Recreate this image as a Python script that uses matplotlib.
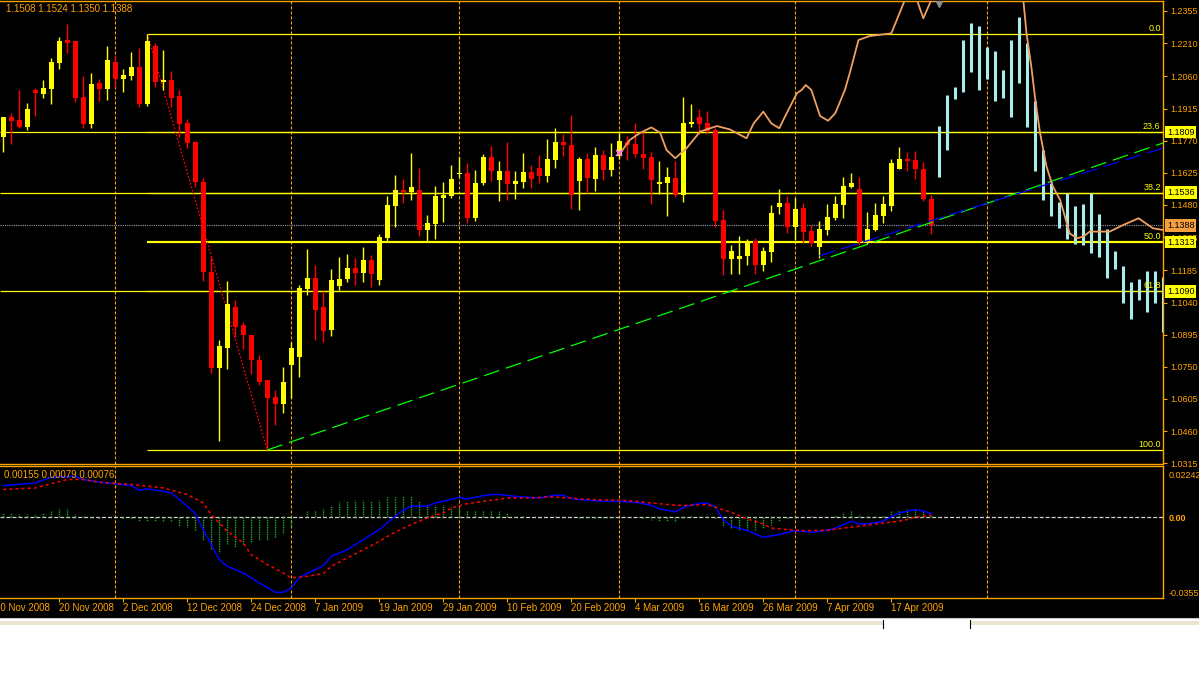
import matplotlib.pyplot as plt
import matplotlib.transforms as mtransforms
from matplotlib import font_manager
from matplotlib.lines import Line2D
from matplotlib.patches import Rectangle
import numpy as np

# daily candles, bar 0 = 11 Nov 2008, last bar = 24 Apr 2009
opens = [1.1787, 1.1877, 1.1863, 1.1832, 1.1999, 1.1981, 1.2003, 1.2121, 1.2224, 1.2220,
         1.1967, 1.1845, 1.2030, 1.2003, 1.2125, 1.2048, 1.2062, 1.2102, 1.1936, 1.2197,
         1.2035, 1.2044, 1.1972, 1.1850, 1.1764, 1.1584, 1.1178, 1.0745, 1.0835, 1.1020,
         1.0939, 1.0894, 1.0781, 1.0691, 1.0614, 1.0583, 1.0759, 1.0795, 1.1101, 1.1151,
         1.1020, 1.0916, 1.1115, 1.1146, 1.1196, 1.1173, 1.1232, 1.1142, 1.1331, 1.1476,
         1.1548, 1.1539, 1.1548, 1.1367, 1.1394, 1.1512, 1.1521, 1.1620, 1.1624, 1.1421,
         1.1579, 1.1697, 1.1593, 1.1633, 1.1575, 1.1584, 1.1629, 1.1647, 1.1611, 1.1683,
         1.1764, 1.1751, 1.1588, 1.1688, 1.1597, 1.1706, 1.1638, 1.1701, 1.1764, 1.1755,
         1.1710, 1.1697, 1.1575, 1.1579, 1.1602, 1.1525, 1.1845, 1.1877, 1.1850, 1.1818,
         1.1412, 1.1236, 1.1236, 1.1250, 1.1318, 1.1209, 1.1268, 1.1471, 1.1489, 1.1381,
         1.1467, 1.1363, 1.1291, 1.1367, 1.1421, 1.1480, 1.1561, 1.1552, 1.1313, 1.1367,
         1.1430, 1.1476, 1.1642, 1.1688, 1.1683, 1.1642, 1.1508]
highs = [1.1877, 1.1895, 1.1999, 1.1940, 1.2008, 1.2044, 1.2143, 1.2238, 1.2296, 1.2220,
         1.2062, 1.2075, 1.2048, 1.2197, 1.2157, 1.2093, 1.2170, 1.2188, 1.2251, 1.2211,
         1.2179, 1.2084, 1.1999, 1.1868, 1.1769, 1.1602, 1.1250, 1.0871, 1.1137, 1.1052,
         1.0952, 1.0894, 1.0804, 1.0691, 1.0646, 1.0749, 1.0862, 1.1119, 1.1282, 1.1209,
         1.1092, 1.1191, 1.1246, 1.1259, 1.1241, 1.1291, 1.1255, 1.1349, 1.1521, 1.1615,
         1.1597, 1.1715, 1.1647, 1.1435, 1.1566, 1.1584, 1.1661, 1.1697, 1.1670, 1.1638,
         1.1710, 1.1746, 1.1679, 1.1764, 1.1633, 1.1715, 1.1661, 1.1706, 1.1778, 1.1827,
         1.1800, 1.1886, 1.1697, 1.1715, 1.1742, 1.1728, 1.1760, 1.1805, 1.1791, 1.1850,
         1.1809, 1.1719, 1.1679, 1.1651, 1.1679, 1.1967, 1.1936, 1.1913, 1.1904, 1.1827,
         1.1457, 1.1300, 1.1340, 1.1327, 1.1331, 1.1291, 1.1480, 1.1552, 1.1521, 1.1512,
         1.1489, 1.1390, 1.1408, 1.1485, 1.1521, 1.1606, 1.1624, 1.1606, 1.1449, 1.1489,
         1.1521, 1.1688, 1.1742, 1.1719, 1.1724, 1.1674, 1.1524]
lows = [1.1719, 1.1755, 1.1827, 1.1818, 1.1881, 1.1963, 1.1936, 1.2093, 1.2166, 1.1945,
        1.1827, 1.1827, 1.1949, 1.1954, 1.2012, 1.1990, 1.2044, 1.1922, 1.1927, 1.2012,
        1.1999, 1.1922, 1.1787, 1.1737, 1.1561, 1.1137, 1.0722, 1.0416, 1.0740, 1.0885,
        1.0831, 1.0718, 1.0668, 1.0375, 1.0488, 1.0542, 1.0610, 1.0704, 1.1074, 1.0871,
        1.0862, 1.0889, 1.1097, 1.1133, 1.1119, 1.1133, 1.1110, 1.1119, 1.1313, 1.1381,
        1.1489, 1.1503, 1.1340, 1.1318, 1.1327, 1.1403, 1.1512, 1.1606, 1.1399, 1.1408,
        1.1570, 1.1588, 1.1498, 1.1503, 1.1507, 1.1557, 1.1557, 1.1579, 1.1584, 1.1647,
        1.1701, 1.1462, 1.1457, 1.1534, 1.1543, 1.1593, 1.1611, 1.1688, 1.1683, 1.1697,
        1.1642, 1.1485, 1.1530, 1.1430, 1.1516, 1.1494, 1.1832, 1.1800, 1.1800, 1.1381,
        1.1164, 1.1169, 1.1169, 1.1209, 1.1169, 1.1182, 1.1223, 1.1440, 1.1354, 1.1322,
        1.1309, 1.1295, 1.1241, 1.1345, 1.1412, 1.1421, 1.1557, 1.1300, 1.1304, 1.1363,
        1.1399, 1.1453, 1.1642, 1.1633, 1.1597, 1.1498, 1.1350]
closes = [1.1877, 1.1859, 1.1832, 1.1913, 1.1985, 1.2008, 1.2125, 1.2220, 1.2211, 1.1963,
          1.1845, 1.2026, 1.2003, 1.2134, 1.2048, 1.2066, 1.2102, 1.1936, 1.2220, 1.2035,
          1.2044, 1.1963, 1.1845, 1.1760, 1.1584, 1.1178, 1.0745, 1.0844, 1.1034, 1.0930,
          1.0894, 1.0781, 1.0682, 1.0610, 1.0583, 1.0682, 1.0835, 1.1106, 1.1151, 1.1006,
          1.0912, 1.1142, 1.1146, 1.1196, 1.1173, 1.1232, 1.1169, 1.1336, 1.1480, 1.1548,
          1.1539, 1.1561, 1.1367, 1.1399, 1.1521, 1.1525, 1.1597, 1.1624, 1.1421, 1.1579,
          1.1697, 1.1633, 1.1633, 1.1575, 1.1588, 1.1629, 1.1597, 1.1611, 1.1688, 1.1764,
          1.1751, 1.1525, 1.1688, 1.1602, 1.1706, 1.1638, 1.1697, 1.1769, 1.1751, 1.1710,
          1.1692, 1.1593, 1.1584, 1.1606, 1.1525, 1.1850, 1.1854, 1.1845, 1.1814, 1.1408,
          1.1236, 1.1273, 1.1250, 1.1313, 1.1209, 1.1273, 1.1444, 1.1489, 1.1381, 1.1462,
          1.1358, 1.1309, 1.1372, 1.1426, 1.1485, 1.1566, 1.1579, 1.1313, 1.1372, 1.1435,
          1.1485, 1.1670, 1.1688, 1.1679, 1.1642, 1.1507, 1.1388]

# projected (ghost) bars drawn after the last candle
proj_start = 117
proj_highs = [1.1836, 1.1977, 1.2012, 1.2224, 1.2301, 1.2287, 1.2193, 1.2175, 1.2089, 1.2224,
              1.2328, 1.2211, 1.1949, 1.1728, 1.1584, 1.1494, 1.1534, 1.1476, 1.1485, 1.1534,
              1.1440, 1.1372, 1.1273, 1.1205, 1.1133, 1.1146, 1.1182, 1.1182, 1.1155]
proj_lows = [1.1606, 1.1728, 1.1958, 1.1990, 1.2080, 1.1999, 1.2048, 1.1949, 1.1963, 1.1877,
             1.2030, 1.1832, 1.1633, 1.1503, 1.1430, 1.1376, 1.1327, 1.1304, 1.1300, 1.1264,
             1.1246, 1.1151, 1.1191, 1.1038, 1.0966, 1.1052, 1.0998, 1.1038, 1.0907]

# orange overlay line (bar, price)
orange_bars = [77.1, 78.3, 79.6, 81.0, 82.1, 82.9, 84.0, 85.4, 87.1, 89.2,
               90.8, 92.9, 93.8, 95.0, 96.0, 97.0, 97.7, 99.2, 99.8, 100.3,
               101.0, 102.1, 103.1, 104.0, 105.2, 105.8, 106.9, 108.3, 111.0, 112.7,
               113.5, 114.2, 115.0, 116.0, 119.6, 124.6, 127.5, 127.9, 128.5, 129.0,
               129.6, 130.4, 131.2, 132.1, 133.3, 134.2, 135.0, 135.8, 138.3, 140.0,
               141.9, 143.7, 145.0]
orange_prices = [1.1713, 1.1773, 1.1805, 1.1830, 1.1806, 1.1728, 1.1691, 1.1736, 1.1811, 1.1836,
                 1.1821, 1.1781, 1.1848, 1.1901, 1.1848, 1.1826, 1.1878, 1.1984, 1.1999, 1.2021,
                 1.1999, 1.1881, 1.1860, 1.1894, 1.1999, 1.2074, 1.2224, 1.2242, 1.2254, 1.2405,
                 1.2450, 1.2405, 1.2322, 1.2405, 1.2585, 1.2585, 1.2405, 1.2254, 1.2104, 1.1954,
                 1.1803, 1.1653, 1.1563, 1.1503, 1.1352, 1.1330, 1.1337, 1.1360, 1.1360, 1.1390,
                 1.1420, 1.1375, 1.1367]

# fibonacci retracement (high bar -> low bar)
fib_bars = [18, 33]
fib_prices = [1.2252, 1.0374]
fib_levels = [0.0, 23.6, 38.2, 50.0, 61.8, 100.0]
fib_texts = ['0.0', '23.6', '38.2', '50.0', '61.8', '100.0']

# horizontal lines and their price boxes
full_hlines = [1.1809, 1.1536, 1.1090]
box_prices = [1.1809, 1.1536, 1.1313, 1.1090]
box_texts = ['1.1809', '1.1536', '1.1313', '1.1090']
bid_price = 1.1388
ohlc_text = '1.1508 1.1524 1.1350 1.1388'

# trend lines
green_bars = [33, 145]
green_prices = [1.0375, 1.1760]
blue_bars = [102, 145]
blue_prices = [1.1251, 1.1737]

# month separators
sep_bars = [14, 36, 57, 77, 99, 123]

price_ticks = [1.2355, 1.2210, 1.2060, 1.1915, 1.1770, 1.1625, 1.1480, 1.1335,
               1.1185, 1.1040, 1.0895, 1.0750, 1.0605, 1.0460, 1.0315]
date_bars = [-1, 7, 15, 23, 31, 39, 47, 55, 63, 71, 79, 87, 95, 103, 111]
date_labels = ['10 Nov 2008', '20 Nov 2008', '2 Dec 2008', '12 Dec 2008', '24 Dec 2008',
               '7 Jan 2009', '19 Jan 2009', '29 Jan 2009', '10 Feb 2009', '20 Feb 2009',
               '4 Mar 2009', '16 Mar 2009', '26 Mar 2009', '7 Apr 2009', '17 Apr 2009']

# MACD panel
macd_bars = [0, 4, 6, 9, 10, 12, 14, 16, 17, 18, 20, 21, 22, 23, 24, 25, 26, 27, 28, 30,
             32, 34, 35, 36, 37, 39, 40, 41, 43, 45, 47, 49, 50, 51, 53, 54, 55, 57, 58, 60,
             61, 62, 64, 65, 67, 69, 70, 71, 72, 75, 77, 79, 81, 82, 84, 85, 87, 88, 89, 90,
             91, 93, 95, 97, 99, 100, 101, 103, 104, 106, 107, 108, 110, 111, 112, 114, 115, 116]
macd_vals = [0.0138, 0.0150, 0.0175, 0.0179, 0.0165, 0.0153, 0.0147, 0.0138, 0.0118, 0.0124,
             0.0113, 0.0106, 0.0077, 0.0048, 0.0015, -0.0055, -0.0120, -0.0187, -0.0216, -0.0245,
             -0.0289, -0.0330, -0.0330, -0.0311, -0.0265, -0.0230, -0.0213, -0.0172, -0.0143, -0.0099,
             -0.0055, 0.0004, 0.0030, 0.0048, 0.0048, 0.0062, 0.0069, 0.0087, 0.0080, 0.0094,
             0.0099, 0.0099, 0.0091, 0.0088, 0.0084, 0.0096, 0.0096, 0.0081, 0.0077, 0.0069,
             0.0069, 0.0065, 0.0052, 0.0036, 0.0023, 0.0043, 0.0061, 0.0061, 0.0045, -0.0011,
             -0.0040, -0.0059, -0.0089, -0.0076, -0.0060, -0.0062, -0.0067, -0.0058, -0.0048, -0.0018,
             -0.0030, -0.0030, -0.0018, 0.0001, 0.0018, 0.0033, 0.0026, 0.0015]
signal_bars = [0, 4, 8, 10, 12, 16, 20, 21, 23, 25, 26, 28, 30, 31, 33, 35, 36, 38, 40, 41,
               43, 45, 47, 49, 51, 53, 55, 56, 58, 60, 61, 63, 66, 68, 71, 72, 75, 77, 79, 81,
               84, 85, 88, 89, 91, 93, 95, 96, 98, 100, 103, 105, 107, 109, 112, 113, 114, 115, 116]
signal_vals = [0.0121, 0.0128, 0.0165, 0.0165, 0.0153, 0.0143, 0.0128, 0.0118, 0.0099, 0.0062,
               0.0010, -0.0062, -0.0113, -0.0165, -0.0208, -0.0245, -0.0267, -0.0260, -0.0248, -0.0216,
               -0.0179, -0.0143, -0.0106, -0.0065, -0.0033, -0.0004, 0.0018, 0.0040, 0.0059, 0.0069,
               0.0074, 0.0084, 0.0084, 0.0089, 0.0084, 0.0080, 0.0075, 0.0074, 0.0069, 0.0062,
               0.0052, 0.0051, 0.0055, 0.0043, 0.0021, -0.0008, -0.0030, -0.0048, -0.0055, -0.0060,
               -0.0058, -0.0048, -0.0040, -0.0030, -0.0018, -0.0011, 0.0001, 0.0004, 0.0008]
osma_vals = [0.0019, 0.0019, 0.0015, 0.0015, 0.0015, 0.0019, 0.0025, 0.0034, 0.0034, 0.0015,
             0.0003, -0.0004, -0.0007, 0.0, 0.0, -0.0010, -0.0010, -0.0019, -0.0015, -0.0019,
             -0.0022, -0.0022, -0.0037, -0.0044, -0.0063, -0.0099, -0.0142, -0.0156, -0.0117, -0.0131,
             -0.0121, -0.0110, -0.0102, -0.0102, -0.0092, -0.0073, -0.0044, 0.0, 0.0025, 0.0032,
             0.0037, 0.0048, 0.0066, 0.0069, 0.0073, 0.0073, 0.0070, 0.0073, 0.0088, 0.0088,
             0.0091, 0.0091, 0.0069, 0.0054, 0.0054, 0.0051, 0.0044, 0.0044, 0.0029, 0.0029,
             0.0029, 0.0029, 0.0025, 0.0018, 0.0004, 0.0007, 0.0, 0.0, 0.0, 0.0007,
             0.0, 0.0, -0.0003, -0.0004, -0.0004, -0.0004, -0.0004, 0.0, 0.0, 0.0,
             -0.0004, -0.0012, -0.0015, -0.0019, -0.0022, -0.0004, 0.0004, 0.0004, 0.0007, -0.0010,
             -0.0041, -0.0051, -0.0058, -0.0058, -0.0058, -0.0048, -0.0034, -0.0015, -0.0007, -0.0004,
             0.0, 0.0004, 0.0, 0.0, 0.0010, 0.0022, 0.0029, 0.0015, 0.0007, 0.0007,
             0.0007, 0.0025, 0.0029, 0.0037, 0.0039, 0.0025, 0.0010]
macd_text = '0.00155 0.00079 0.00076'

# look and feel
ORANGE = '#ffa400'
YELLOW = '#ffff00'
RED = '#ff0000'
names = {f.name for f in font_manager.fontManager.ttflist}
if 'Liberation Sans Narrow' in names:
    plt.rcParams['font.family'] = ['Liberation Sans Narrow', 'DejaVu Sans']
    fs_axis, fs_text = 7.5, 8
else:
    plt.rcParams['font.family'] = ['Liberation Sans', 'DejaVu Sans']
    fs_axis, fs_text = 6.5, 7.0
plt.rcParams['lines.scale_dashes'] = False

W, H = 1199, 691
fig = plt.figure(figsize=(W / 100, H / 100), dpi=100, facecolor='black')
ax = fig.add_axes([0, 1 - 463.5 / H, 1163 / W, 462.5 / H], facecolor='black')
mx = fig.add_axes([0, 1 - 598 / H, 1163 / W, 132 / H], facecolor='black', sharex=ax)

x_lo, x_hi = -0.41, 144.96
ax.set_xlim(x_lo, x_hi)
ax.set_ylim(1.0314, 1.2400)
mx.set_ylim(-0.0355, 0.02242)

for a in (ax, mx):
    a.spines['left'].set_visible(False)
    for s in ('top', 'right', 'bottom'):
        a.spines[s].set_color(ORANGE)
        a.spines[s].set_linewidth(1.0)
    for b in sep_bars:
        a.axvline(b, color=ORANGE, lw=0.8, dashes=(2.2, 1.4), zorder=1)

# candles
bars = np.arange(len(closes))
o = np.array(opens)
c = np.array(closes)
cols = np.where(c >= o, YELLOW, RED)
ax.vlines(bars, lows, highs, colors=cols, lw=1.0, zorder=4)
ax.bar(bars, np.maximum(np.abs(c - o), 0.0005), bottom=np.minimum(o, c), width=0.62,
       color=cols, lw=0, zorder=4)

# projected bars
pbars = np.arange(proj_start, proj_start + len(proj_highs))
ax.vlines(pbars, proj_lows, proj_highs, colors='#a8ecec', lw=2.2, zorder=4)

# fibonacci
fh, fl = fib_prices
ax.plot(fib_bars, fib_prices, color=RED, lw=1.0, dashes=(1.2, 1.4), zorder=3)
ty = mtransforms.blended_transform_factory(ax.transAxes, ax.transData)
for lev, txt in zip(fib_levels, fib_texts):
    p = fh - lev / 100 * (fh - fl)
    ax.hlines(p, fib_bars[0], x_hi, color=YELLOW, lw=1.6 if lev == 50.0 else 0.9, zorder=2)
    ax.text(0.998, p + 0.0004, txt, transform=ty, ha='right', va='bottom',
            color=YELLOW, fontsize=fs_axis, zorder=6)
ax.hlines(full_hlines, x_lo, x_hi, color=YELLOW, lw=0.9, zorder=2)

# bid line
ax.axhline(bid_price, color='#9494a8', lw=0.9, dashes=(0.8, 0.8), zorder=2)

# trend lines and overlay
ax.plot(green_bars, green_prices, color='#00ff00', lw=0.9, dashes=(11.5, 5), zorder=5)
ax.plot(blue_bars, blue_prices, color='#0000ff', lw=0.9, dashes=(11.5, 5), zorder=5)
ax.plot(orange_bars, orange_prices, color='#f0a060', lw=1.3, zorder=5)
ax.plot(77, 1.1716, marker='x', color='#ff70ff', ms=5, mew=1.2, zorder=6)
ax.plot(117, 1.2392, marker='v', color='#8c8c8c', ms=6, zorder=6)

# price axis
ax.yaxis.tick_right()
ax.set_yticks(price_ticks)
ax.set_yticklabels(['%.4f' % p for p in price_ticks])
ax.tick_params(axis='y', colors=ORANGE, labelcolor=ORANGE, labelsize=fs_axis,
               length=3, width=0.8, pad=2.5)
ax.tick_params(axis='x', bottom=False, labelbottom=False)

for p, txt in zip(box_prices, box_texts):
    ax.text(1.0035, p, txt, transform=ty, ha='left', va='center', color='black',
            fontsize=fs_axis, clip_on=False, zorder=10,
            bbox=dict(boxstyle='square,pad=0.2', facecolor=YELLOW, edgecolor='none'))
ax.text(1.0035, bid_price, '%.4f' % bid_price, transform=ty, ha='left', va='center',
        color='black', fontsize=fs_axis, clip_on=False, zorder=10,
        bbox=dict(boxstyle='square,pad=0.2', facecolor='#f5a040', edgecolor='none'))

fig.text(6 / W, 1 - 8.5 / H, ohlc_text, color=ORANGE, fontsize=fs_text, va='center', ha='left')

# MACD
mx.axhline(0, color='#d0d0d0', lw=0.9, dashes=(2.9, 1.4), zorder=2)
mx.vlines(bars, 0, osma_vals, colors='#1fae1f', lw=1.0, linestyles=(0, (1.0, 0.7)), zorder=3)
mx.plot(macd_bars, macd_vals, color='#0000ff', lw=1.1, zorder=4)
mx.plot(signal_bars, signal_vals, color=RED, lw=1.1, dashes=(2.2, 2.2), zorder=4)
fig.text(4 / W, 1 - 475.5 / H, macd_text, color=ORANGE, fontsize=fs_text, va='center', ha='left')

mx.yaxis.tick_right()
mx.set_yticks([0.02242, 0.0, -0.0355])
labs = mx.set_yticklabels(['0.02242', '0.00', '-0.0355'])
labs[0].set_va('center')
labs[1].set_fontweight('bold')
labs[2].set_va('bottom')
mx.tick_params(axis='y', colors=ORANGE, labelcolor=ORANGE, labelsize=fs_axis,
               length=0, pad=4)
# nudge top label down inside the panel as in the terminal
labs[0].set_transform(labs[0].get_transform() +
                      mtransforms.ScaledTranslation(0, -6.5 / 72, fig.dpi_scale_trans))

mx.set_xticks([b for b in date_bars if b > x_lo])
mx.tick_params(axis='x', colors=ORANGE, length=3, width=0.8, labelbottom=False)
tx = mtransforms.blended_transform_factory(mx.transData, mx.transAxes)
for b, lab in zip(date_bars, date_labels):
    mx.text(b, -10 / 132, lab, transform=tx, ha='left', va='center', color=ORANGE,
            fontsize=fs_text, clip_on=False)

# white window area below the chart
fig.add_artist(Rectangle((0, 0), 1, (H - 618) / H, transform=fig.transFigure,
                         facecolor='white', edgecolor='none', zorder=-5))
fig.add_artist(Line2D([0, 1], [1 - 617.5 / H] * 2, color='#c8c8c8', lw=0.8))
fig.add_artist(Rectangle((0, 1 - 625 / H), 883 / W, 4 / H, transform=fig.transFigure,
                         facecolor='#ece4d2', edgecolor='none'))
fig.add_artist(Rectangle((970 / W, 1 - 625 / H), 229 / W, 4 / H, transform=fig.transFigure,
                         facecolor='#ece4d2', edgecolor='none'))
fig.add_artist(Line2D([883 / W] * 2, [1 - 628 / H, 1 - 620 / H], color='black', lw=0.8))
fig.add_artist(Line2D([970 / W] * 2, [1 - 628 / H, 1 - 620 / H], color='black', lw=0.8))

fig.savefig('out.png', dpi=100, facecolor='black')
